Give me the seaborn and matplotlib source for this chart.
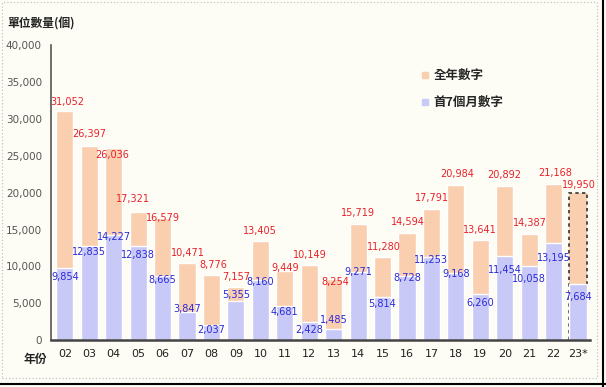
import matplotlib
matplotlib.use("Agg")
import matplotlib.pyplot as plt
import numpy as np
import pandas as pd
import seaborn as sns
from matplotlib.patches import Rectangle
from matplotlib.lines import Line2D

years = ["02", "03", "04", "05", "06", "07", "08", "09", "10", "11", "12",
         "13", "14", "15", "16", "17", "18", "19", "20", "21", "22", "23*"]
full_year = [31052, 26397, 26036, 17321, 16579, 10471, 8776, 7157, 13405, 9449, 10149,
             8254, 15719, 11280, 14594, 17791, 20984, 13641, 20892, 14387, 21168, 19950]
first7 = [9854, 12835, 14227, 12838, 8665, 3847, 2037, 5355, 8160, 4681, 2428,
          1485, 9271, 5814, 8728, 11253, 9168, 6260, 11454, 10058, 13195, 7684]

# label nudges in pixels (vertical, from bar top) as placed in the original
red_dy = [9, 12, -7, 13, 0, 10, 10, 10, 10, 3, 10, -3, 11, 10, 11, 11, 11, 10, 11, 11, 11, 8]
red_dx = [2, 0, -2, -5, 0, 1, 2, 0, 0, 0, 1, 2, 0, 1, 1, 1, 1, 0, 0, 1, 2, 1]
blue_dy = [-9, -6, -2, -9, -4, 3, -5, 6, -2, -6, -8, 9, 0, -7, -2, -3, -1, -9, -14, -13, -15, -13]

sns.set_style("white")
plt.rcParams["font.family"] = ["Noto Sans CJK TC", "DejaVu Sans"]

bg = "#fdfdf6"
orange = "#f9cfb0"
blue = "#c9c9f8"

df = pd.DataFrame({"year": years, "full": full_year, "first7": first7})

fig = plt.figure(figsize=(6.06, 3.87), dpi=100, facecolor=bg)
ax = fig.add_axes([0.084, 0.121, 0.89, 0.762])
ax.set_facecolor(bg)

sns.barplot(data=df, x="year", y="full", order=years, color=orange, width=0.7,
            saturation=1, ax=ax)
sns.barplot(data=df, x="year", y="first7", order=years, color=blue, width=0.7,
            saturation=1, ax=ax)

# dashed frame around the 2023 estimate bar
last = ax.patches[len(years) - 1]
last.set_edgecolor("#333333")
last.set_linestyle((0, (2, 2)))
last.set_linewidth(1.2)

px = 72 / 100  # pixels -> points
for i, (f, s) in enumerate(zip(full_year, first7)):
    ax.annotate(f"{f:,}", (i, f), xytext=(red_dx[i] * px, red_dy[i] * px),
                textcoords="offset points", ha="center", va="center",
                color="#e8202a", fontsize=7, family="DejaVu Sans")
    ax.annotate(f"{s:,}", (i, s), xytext=(0, blue_dy[i] * px),
                textcoords="offset points", ha="center", va="center",
                color="#2a2ad8", fontsize=7, family="DejaVu Sans")

ax.set_xlim(-0.57, 21.5)
ax.set_ylim(0, 40000)
ax.set_yticks(np.arange(0, 40001, 5000))
ax.set_yticklabels([f"{v:,}" for v in range(0, 40001, 5000)], color="#555555",
                   fontsize=7.5, family="DejaVu Sans")
ax.tick_params(axis="x", labelsize=8, length=0, pad=6, labelcolor="#222222")
ax.tick_params(axis="y", length=3, direction="inout", color="#444444", pad=5)
for lbl in ax.get_xticklabels():
    lbl.set_family("DejaVu Sans")
ax.set_xlabel("")
ax.set_ylabel("")
for side in ["top", "right"]:
    ax.spines[side].set_visible(False)
ax.spines["left"].set_color("#555555")
ax.spines["left"].set_linewidth(1.2)
ax.spines["bottom"].set_color("#444444")
ax.spines["bottom"].set_linewidth(1.8)

handles = [Line2D([], [], marker="s", color=orange, linestyle="", markersize=4),
           Line2D([], [], marker="s", color=blue, linestyle="", markersize=4)]
ax.legend(handles, ["全年數字", "首7個月數字"], loc="upper left",
          bbox_to_anchor=(410 / 606, 1 - 58 / 387), bbox_transform=fig.transFigure,
          frameon=False, handlelength=0.6, handletextpad=0.4, labelspacing=1.1,
          prop={"size": 9, "weight": "bold"})

fig.text(7 / 606, 1 - 24 / 387, "單位數量(個)", fontsize=8.5, fontweight="bold",
         va="center", ha="left", color="#222222")
fig.text(24 / 606, 1 - 360 / 387, "年份", fontsize=8.5, fontweight="bold",
         va="center", ha="left", color="#222222")

# dotted outer border and screenshot frame edges
fig.add_artist(Rectangle((2 / 606, 1 - 378 / 387), 595 / 606, 376 / 387,
                         transform=fig.transFigure, fill=False, edgecolor="#bbbbbb",
                         linestyle=(0, (1, 2)), linewidth=0.8))
fig.add_artist(Line2D([603 / 606, 603 / 606], [0, 1], transform=fig.transFigure,
                      color="black", linewidth=1.5))
fig.add_artist(Line2D([0, 1], [3 / 387, 3 / 387], transform=fig.transFigure,
                      color="black", linewidth=1.5))

fig.savefig("out.png", dpi=100, facecolor=bg)
